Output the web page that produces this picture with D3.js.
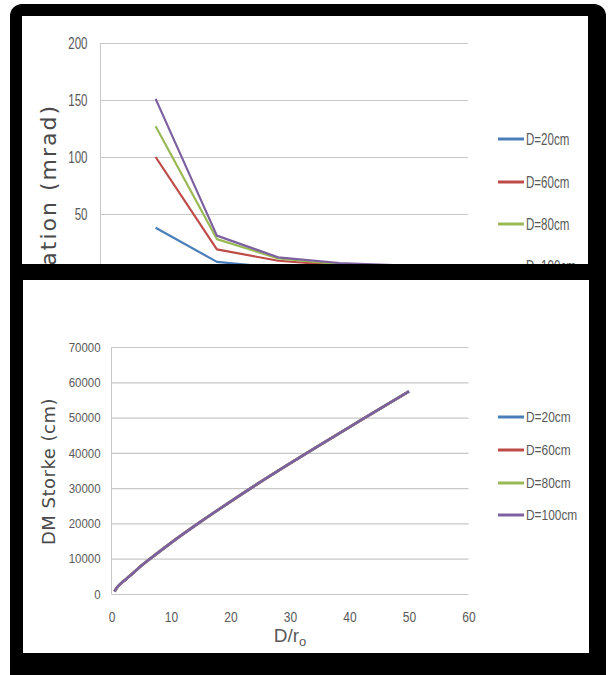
<!DOCTYPE html>
<html><head><meta charset="utf-8">
<script src="https://cdn.jsdelivr.net/npm/d3@7"></script>
<style>body{margin:0;background:#fff}svg{display:block}</style>
</head><body><svg id="c" width="611" height="675"></svg>
<script>
// ---------- data ----------
const seriesNames = ["D=20cm", "D=60cm", "D=80cm", "D=100cm"];
const seriesColors = ["#4a7ebb", "#be4b48", "#98b954", "#7d60a0"];

// top chart (partly hidden)
const topX = [9, 19, 29, 39, 49];
const topD20 = [38, 8, 3, 2, 1];
const topD60 = [100, 19, 9, 5, 3];
const topD80 = [127, 28, 11, 6, 4];
const topD100 = [151, 31, 12, 7, 5];
const topYTicks = [0, 50, 100, 150, 200];

// bottom chart: DM stroke vs D/r0
const botX = [0.5, 1, 2, 3, 5, 7.5, 10, 15, 20, 25, 30, 35, 40, 45, 50];
const botD20 = [700, 2000, 3600, 5000, 8000, 11300, 14500, 20500, 26200, 31700, 37000, 42200, 47300, 52400, 57400];
const botD60 = [700, 2000, 3600, 5000, 8000, 11300, 14500, 20500, 26200, 31700, 37000, 42200, 47300, 52400, 57400];
const botD80 = [700, 2000, 3600, 5000, 8000, 11300, 14500, 20500, 26200, 31700, 37000, 42200, 47300, 52400, 57400];
const botD100 = [700, 2000, 3600, 5000, 8000, 11300, 14500, 20500, 26200, 31700, 37000, 42200, 47300, 52400, 57400];
const botYTicks = [0, 10000, 20000, 30000, 40000, 50000, 60000, 70000];
const botXTicks = [0, 10, 20, 30, 40, 50, 60];

// ---------- helpers ----------
const svg = d3.select("#c");
const TXT = "#595959", GRID = "#c8c8c8";
function squeeze(sel, sx) {
  sel.each(function () {
    const w = this.getComputedTextLength();
    d3.select(this).attr("textLength", w * sx).attr("lengthAdjust", "spacingAndGlyphs");
  });
}

// ================= TOP PANEL =================
svg.append("rect").attr("x", 10).attr("y", 4).attr("width", 596).attr("height", 300).attr("rx", 12).attr("fill", "#000");
svg.append("rect").attr("x", 22).attr("y", 16).attr("width", 566).attr("height", 260).attr("fill", "#fff");

const tx = d3.scaleLinear().domain([0, 60]).range([100.5, 468]);
const ty = d3.scaleLinear().domain([0, 200]).range([271, 43]);
const topG = svg.append("g");

const tyAxis = topG.append("g").attr("transform", `translate(${tx(0)},0)`)
  .call(d3.axisLeft(ty).tickValues(topYTicks).tickSize(-(tx(60) - tx(0))).tickPadding(13));
tyAxis.select(".domain").remove();
tyAxis.selectAll(".tick line").attr("stroke", GRID).attr("stroke-width", 1.2);
tyAxis.selectAll(".tick text").attr("font-family", "Liberation Sans, Arial, sans-serif")
  .attr("font-size", 17).attr("fill", TXT).call(squeeze, 0.68);
topG.append("line").attr("x1", tx(0)).attr("x2", tx(0)).attr("y1", ty(200)).attr("y2", ty(0)).attr("stroke", GRID);

const topSeries = [topD20, topD60, topD80, topD100];
const tline = d3.line().x((d, i) => tx(topX[i])).y(d => ty(d)).curve(d3.curveLinear);
topSeries.forEach((s, k) => {
  topG.append("path").datum(s).attr("d", tline).attr("fill", "none")
    .attr("stroke", seriesColors[k]).attr("stroke-width", 2.2).attr("stroke-linejoin", "round");
});

topG.append("text").attr("transform", "translate(56,104) rotate(-90)")
  .attr("text-anchor", "end").attr("font-family", "DejaVu Sans, Verdana, sans-serif")
  .attr("font-size", 22).attr("letter-spacing", 2).attr("fill", "#4a4a4a")
  .text("Deviation (mrad)");

const tLegY = [139, 182, 224, 266];
seriesNames.forEach((n, k) => {
  topG.append("line").attr("x1", 498).attr("x2", 524).attr("y1", tLegY[k]).attr("y2", tLegY[k])
    .attr("stroke", seriesColors[k]).attr("stroke-width", 3);
  topG.append("text").attr("x", 526).attr("y", tLegY[k] + 6)
    .attr("font-family", "Liberation Sans, Arial, sans-serif").attr("font-size", 17).attr("fill", TXT)
    .text(n).call(squeeze, 0.68);
});

// ================= BOTTOM PANEL =================
svg.append("rect").attr("x", 10).attr("y", 264).attr("width", 596).attr("height", 430).attr("rx", 12).attr("fill", "#000");
svg.append("rect").attr("x", 23).attr("y", 280).attr("width", 566).attr("height", 373).attr("fill", "#fff");

const bx = d3.scaleLinear().domain([0, 60]).range([111.5, 468.5]);
const by = d3.scaleLinear().domain([0, 70000]).range([594, 347]);
const botG = svg.append("g");

const byAxis = botG.append("g").attr("transform", `translate(${bx(0)},0)`)
  .call(d3.axisLeft(by).tickValues(botYTicks).tickSize(-(bx(60) - bx(0))).tickPadding(11).tickFormat(d3.format("d")));
byAxis.select(".domain").remove();
byAxis.selectAll(".tick line").attr("stroke", GRID).attr("stroke-width", 1.2);
byAxis.selectAll(".tick text").attr("font-family", "Liberation Sans, Arial, sans-serif")
  .attr("font-size", 13).attr("fill", TXT).call(squeeze, 0.88);
botG.append("line").attr("x1", bx(0)).attr("x2", bx(0)).attr("y1", by(70000)).attr("y2", by(0)).attr("stroke", GRID);

const bxAxis = botG.append("g").attr("transform", `translate(0,${by(0)})`)
  .call(d3.axisBottom(bx).tickValues(botXTicks).tickSize(0).tickPadding(17));
bxAxis.select(".domain").remove();
bxAxis.selectAll(".tick text").attr("font-family", "Liberation Sans, Arial, sans-serif")
  .attr("font-size", 15).attr("fill", TXT).call(squeeze, 0.8);

const botSeries = [botD20, botD60, botD80, botD100];
const bline = d3.line().x((d, i) => bx(botX[i])).y(d => by(d)).curve(d3.curveMonotoneX);
botSeries.forEach((s, k) => {
  botG.append("path").datum(s).attr("d", bline).attr("fill", "none")
    .attr("stroke", seriesColors[k]).attr("stroke-width", 2.6);
});

const xt = botG.append("text").attr("x", 290).attr("y", 642).attr("text-anchor", "middle")
  .attr("font-family", "Liberation Sans, Arial, sans-serif").attr("font-size", 19).attr("fill", TXT);
xt.append("tspan").text("D/r");
xt.append("tspan").attr("font-size", 13).attr("dy", 4).text("o");

botG.append("text").attr("transform", "translate(55,471.5) rotate(-90)")
  .attr("text-anchor", "middle").attr("font-family", "DejaVu Sans, Verdana, sans-serif")
  .attr("font-size", 18).attr("letter-spacing", 0.5).attr("fill", "#4a4a4a")
  .text("DM Storke (cm)");

const bLegY = [417, 450, 483, 515];
seriesNames.forEach((n, k) => {
  botG.append("line").attr("x1", 498).attr("x2", 524).attr("y1", bLegY[k]).attr("y2", bLegY[k])
    .attr("stroke", seriesColors[k]).attr("stroke-width", 3);
  botG.append("text").attr("x", 526).attr("y", bLegY[k] + 5)
    .attr("font-family", "Liberation Sans, Arial, sans-serif").attr("font-size", 14).attr("fill", TXT)
    .text(n).call(squeeze, 0.85);
});
</script></body></html>
